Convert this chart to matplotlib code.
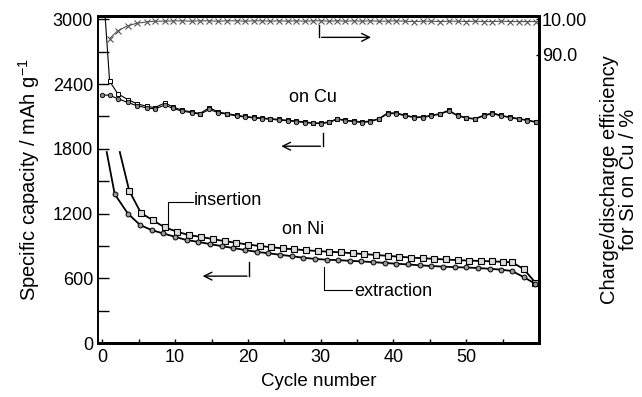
import numpy as np
import matplotlib.pyplot as plt

plt.rcParams['font.family'] = ['Liberation Sans', 'DejaVu Sans']

# Si on Cu (capacity, mAh/g) - cycle positions
cu_cycle = [0, 1.0, 2.1, 3.5, 4.7, 6.1, 7.2, 8.6, 9.7, 11.0, 12.3, 13.4, 14.7, 15.9, 17.1,
            18.5, 19.6, 20.8, 22.0, 23.1, 24.3, 25.5, 26.6, 27.8, 29.0, 30.1, 31.2, 32.3,
            33.4, 34.6, 35.7, 36.8, 38.0, 39.2, 40.4, 41.6, 42.8, 44.0, 45.2, 46.4, 47.6,
            48.8, 50.0, 51.2, 52.4, 53.6, 54.8, 56.0, 57.2, 58.4, 59.6]
cu_insertion = [3400, 2426, 2312, 2256, 2219, 2194, 2182, 2225, 2188, 2157, 2142, 2127, 2182,
                2142, 2127, 2111, 2100, 2092, 2085, 2080, 2072, 2065, 2058, 2049, 2040, 2040,
                2050, 2080, 2065, 2058, 2049, 2058, 2080, 2133, 2133, 2111, 2096, 2096, 2111,
                2127, 2157, 2111, 2090, 2080, 2111, 2133, 2110, 2095, 2080, 2068, 2050]
cu_extraction = [2300, 2296, 2265, 2230, 2200, 2180, 2170, 2205, 2175, 2148, 2135, 2120, 2165,
                 2135, 2120, 2104, 2094, 2086, 2079, 2074, 2066, 2059, 2052, 2043, 2035, 2034,
                 2044, 2074, 2059, 2052, 2043, 2052, 2074, 2126, 2126, 2105, 2090, 2090, 2105,
                 2120, 2150, 2105, 2084, 2074, 2105, 2126, 2104, 2089, 2074, 2062, 2044]
cu_eff = [None, 94.6, 96.8, 98.2, 98.9, 99.3, 99.5, 99.5, 99.6, 99.6, 99.5, 99.6, 99.6, 99.5,
          99.6, 99.6, 99.5, 99.6, 99.6, 99.5, 99.6, 99.5, 99.6, 99.5, 99.6, 99.6, 99.5, 99.6,
          99.5, 99.6, 99.5, 99.6, 99.5, 99.5, 99.6, 99.5, 99.4, 99.5, 99.5, 99.4, 99.5, 99.5,
          99.4, 99.5, 99.4, 99.4, 99.5, 99.4, 99.4, 99.4, 99.4]

# Si on Ni
ni_ext_cycle = [0.6, 1.7, 3.5, 5.2, 6.8, 8.4, 10.0, 11.6, 13.1, 14.8, 16.4, 18.0, 19.6, 21.2,
                22.8, 24.4, 26.0, 27.6, 29.2, 30.8, 32.4, 34.0, 35.6, 37.2, 38.8, 40.4, 42.0,
                43.6, 45.2, 46.8, 48.4, 50.0, 51.6, 53.2, 54.8, 56.3, 57.9, 59.5]
ni_extraction = [1770, 1380, 1200, 1093, 1046, 1015, 984, 954, 938, 917, 898, 880, 862, 845,
                 832, 818, 805, 790, 780, 772, 768, 762, 756, 750, 742, 735, 728, 720, 714,
                 708, 703, 700, 695, 688, 680, 667, 611, 548]
ni_ins_cycle = [2.4, 3.7, 5.3, 6.9, 8.6, 10.3, 11.9, 13.5, 15.2, 16.8, 18.4, 20.0, 21.6, 23.2,
                24.8, 26.4, 28.0, 29.6, 31.2, 32.8, 34.4, 36.0, 37.6, 39.2, 40.8, 42.4, 44.0,
                45.6, 47.2, 48.8, 50.4, 52.0, 53.6, 55.0, 56.3, 57.9, 59.5]
ni_insertion = [1770, 1410, 1206, 1139, 1071, 1031, 1000, 984, 963, 944, 929, 912, 900, 888,
                877, 868, 860, 852, 846, 840, 832, 824, 816, 808, 800, 792, 786, 780, 774,
                768, 764, 760, 757, 752, 748, 685, 560]

fig = plt.figure(figsize=(6.42, 3.97), dpi=100)
ax = fig.add_axes([0.1526, 0.136, 0.6870, 0.824])
ax2 = ax.twinx()

# capacity curves
ax.plot(cu_cycle, cu_insertion, color='black', lw=0.8, marker='s', ms=3.5,
        mfc='white', mec='black', mew=0.7)
ax.plot(cu_cycle, cu_extraction, color='black', lw=0.8, marker='o', ms=3.2,
        mfc='#888888', mec='black', mew=0.6)
ax.plot(ni_ins_cycle, ni_insertion, color='black', lw=1.3, marker='s', ms=3.8,
        mfc='#dddddd', mec='black', mew=0.8, markevery=slice(1, None))
ax.plot(ni_ext_cycle, ni_extraction, color='black', lw=1.3, marker='o', ms=3.5,
        mfc='#999999', mec='black', mew=0.7, markevery=slice(1, None))

# efficiency
ax2.plot(cu_cycle, cu_eff, color='#555555', lw=0.8, marker='x', ms=4, mew=0.8)

ax.set_xlim(-0.6, 60)
ax.set_ylim(0, 3032)
ax2.set_ylim(8.9, 101)

ax.set_xticks(np.arange(0, 61, 10))
ax.set_xticklabels(['0', '10', '20', '30', '40', '50', ''])
ax.set_xticks(np.arange(5, 60, 10), minor=True)
ax.set_yticks(np.arange(0, 3001, 600))
ax.set_yticks(np.arange(300, 3000, 600), minor=True)
ax.tick_params(axis='x', which='both', direction='in', length=3, width=1,
               labelsize=13, pad=4, top=False)
ax.tick_params(axis='y', which='both', direction='in', length=8, width=1,
               labelsize=13, right=False)

ax2.set_yticks([100, 90])
ax2.set_yticklabels(['10.00', '90.0'])
ax2.tick_params(axis='y', direction='in', length=2, width=1, labelsize=13, pad=2)

for s in ['top', 'right', 'bottom']:
    ax.spines[s].set_linewidth(2.0)
    ax2.spines[s].set_linewidth(2.0)
ax.spines['left'].set_linewidth(1.2)
ax2.spines['left'].set_linewidth(1.2)

ax.set_xlabel('Cycle number', fontsize=13.5, labelpad=5)
ax.set_ylabel('Specific capacity / mAh g$^{\\mathregular{-1}}$', fontsize=14.5, labelpad=8)
ax2.set_ylabel('Charge/discharge efficiency\nfor Si on Cu / %', fontsize=14.5,
               rotation=90, labelpad=9, linespacing=1.0)

# labels and arrows
ax.text(28.9, 2275, 'on Cu', fontsize=13, ha='center', va='center')
ax.text(27.6, 1056, 'on Ni', fontsize=13, ha='center', va='center')
ax.text(12.6, 1325, 'insertion', fontsize=13, ha='left', va='center')
ax.text(34.6, 475, 'extraction', fontsize=13, ha='left', va='center')

ax.plot([12.4, 9.05, 9.05], [1308, 1308, 1077], color='black', lw=0.8)
ax.plot([30.5, 30.5, 34.3], [707, 491, 491], color='black', lw=0.8)

arrow = dict(arrowstyle='->', color='black', lw=1.0, mutation_scale=14)
ax.plot([30.3, 30.3], [1944, 1824], color='black', lw=1.0)
ax.annotate('', xy=(24.2, 1824), xytext=(30.35, 1824), arrowprops=arrow)
ax.plot([29.8, 29.8], [2944, 2833], color='black', lw=1.0)
ax.annotate('', xy=(37.3, 2833), xytext=(29.75, 2833), arrowprops=arrow)
ax.plot([20.2, 20.2], [753, 620], color='black', lw=1.0)
ax.annotate('', xy=(13.4, 620), xytext=(20.25, 620), arrowprops=arrow)

fig.savefig('out.png', dpi=100)
